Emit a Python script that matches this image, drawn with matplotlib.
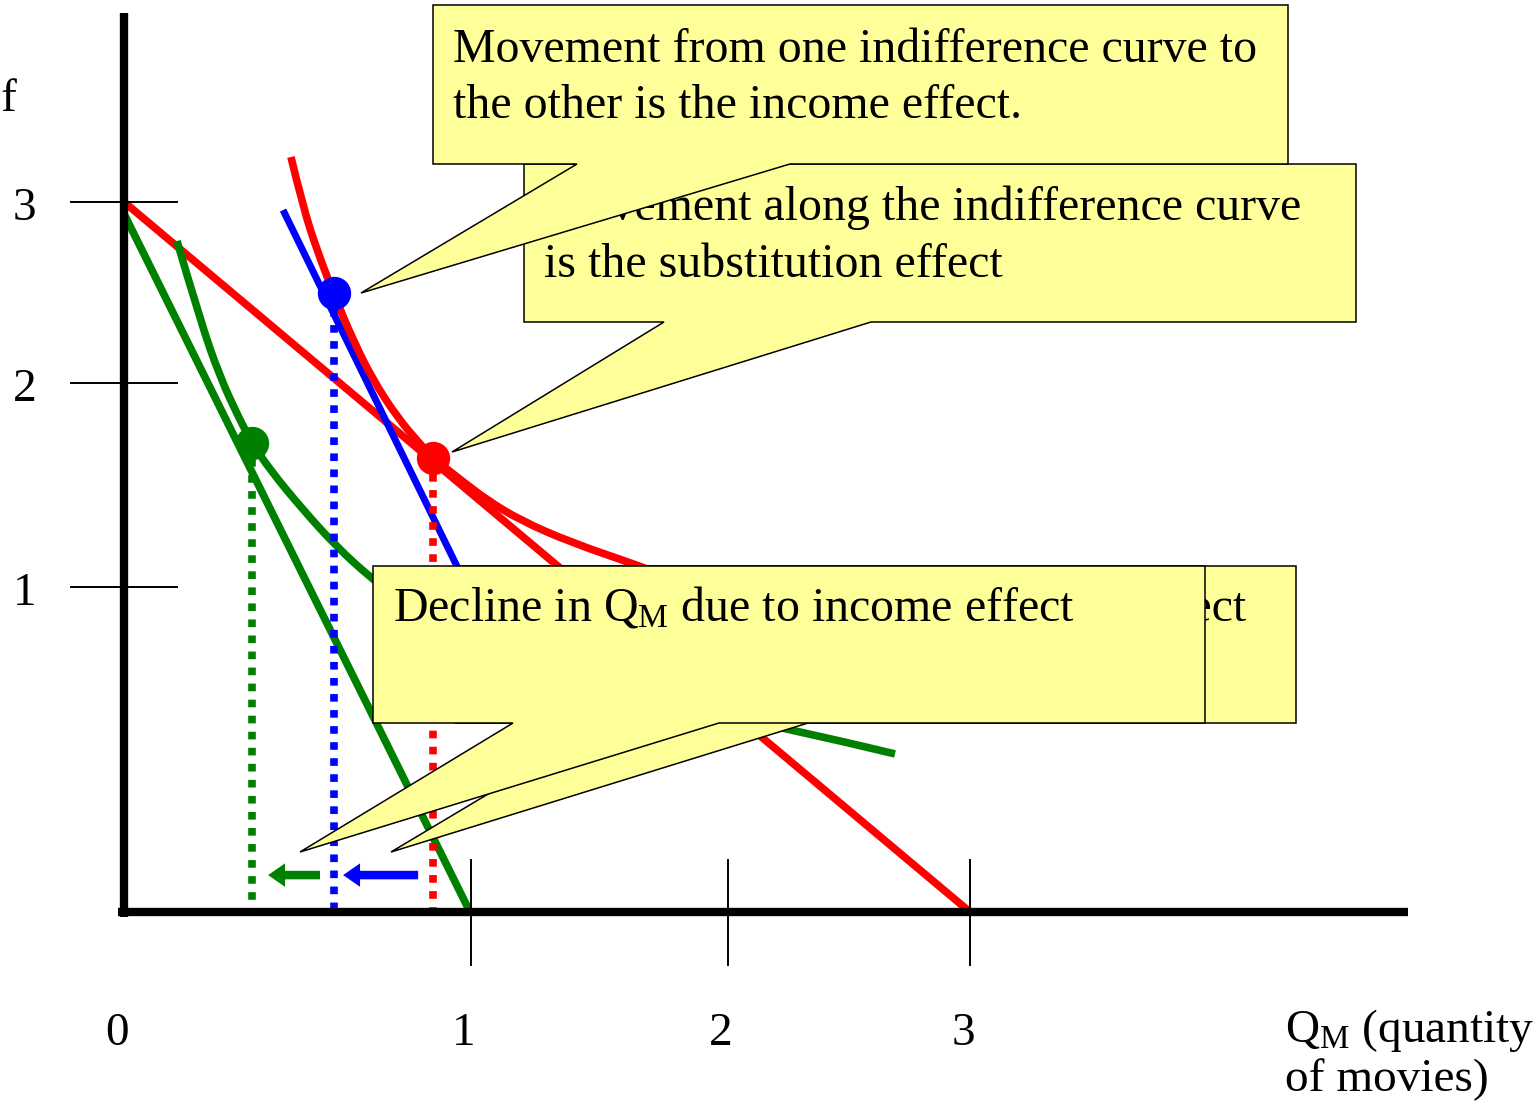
import matplotlib
matplotlib.use("Agg")
import matplotlib.pyplot as plt
from matplotlib.patches import Polygon, PathPatch
from matplotlib.path import Path

plt.rcParams['font.family'] = ['Liberation Serif', 'DejaVu Serif']
plt.rcParams['mathtext.fontset'] = 'custom'
plt.rcParams['mathtext.rm'] = 'Liberation Serif'
plt.rcParams['mathtext.it'] = 'Liberation Serif:italic'

# budget lines (Q_M on x, other good on y)
budget_old_x = [0.0, 3.0]
budget_old_y = [3.0, 0.0]
budget_new_x = [0.0, 1.227]
budget_new_y = [2.95, 0.0]
budget_comp_x = [0.564, 1.433]
budget_comp_y = [2.966, 0.845]

# higher indifference curve (red) and lower one (green)
ic_hi_x = [0.592, 0.635, 0.684, 0.748, 0.812, 0.883, 0.968, 1.050, 1.096,
           1.181, 1.287, 1.404, 1.582, 1.819, 1.90]
ic_hi_y = [3.190, 2.979, 2.797, 2.599, 2.417, 2.248, 2.092, 1.977, 1.918,
           1.838, 1.741, 1.656, 1.563, 1.466, 1.43]
ic_lo_x = [0.188, 0.270, 0.340, 0.411, 0.454, 0.518, 0.635, 0.755, 0.872,
           1.050, 1.298, 1.617, 1.972, 2.351, 2.734]
ic_lo_y = [2.835, 2.501, 2.261, 2.079, 1.982, 1.868, 1.699, 1.542, 1.415,
           1.246, 1.094, 0.963, 0.862, 0.777, 0.668]

# optimal bundles: original (red), compensated (blue), new (green)
pt_red = (1.096, 1.918)
pt_blue = (0.745, 2.615)
pt_green = (0.454, 1.982)

# effect arrows along the x axis: (from, to)
arrow_y = 0.156
arrow_sub = (1.043, 0.777)
arrow_inc = (0.695, 0.511)

x_ticks = [1.230, 2.142, 3.0]
x_tick_labels = ['1', '2', '3']
y_ticks = [3.0, 2.235, 1.373]
y_tick_labels = ['3', '2', '1']

RED, GREEN, BLUE = '#ff0000', '#008000', '#0000ff'
YELLOW = '#ffff99'
W, H = 1539, 1109
FS = 34.5

fig = plt.figure(figsize=(W / 100, H / 100), dpi=100)
ax = fig.add_axes([0, 0, 1, 1])
ax.axis('off')


def fpos(x, y):
    # pixel position measured from the top-left corner -> figure fraction
    return x / W, 1 - y / H


def label(x, y, s, size=FS, ha='left', z=5):
    ax.text(*fpos(x, y), s, transform=fig.transFigure, fontsize=size,
            ha=ha, va='baseline', zorder=z)


def callout(box, base, tip, z):
    x0, y0, x1, y1 = box
    pts = [(x0, y0), (x1, y0), (x1, y1), (base[1], y1), tip,
           (base[0], y1), (x0, y1)]
    ax.add_patch(Polygon([fpos(*p) for p in pts], closed=True,
                         transform=fig.transFigure, facecolor=YELLOW,
                         edgecolor='black', lw=1.1, zorder=z))


def smooth_curve(xs, ys, color, lw):
    # quadratic B-spline path using the points as control points
    pts = list(zip(xs, ys))
    verts, codes = [pts[0]], [Path.MOVETO]
    for i in range(1, len(pts) - 1):
        end = pts[i + 1] if i == len(pts) - 2 else \
            ((pts[i][0] + pts[i + 1][0]) / 2, (pts[i][1] + pts[i + 1][1]) / 2)
        verts += [pts[i], end]
        codes += [Path.CURVE3, Path.CURVE3]
    ax.add_patch(PathPatch(Path(verts, codes), facecolor='none',
                           edgecolor=color, lw=lw, capstyle='butt', zorder=2))


lw = 5.5
ax.plot(budget_old_x, budget_old_y, color=RED, lw=lw, solid_capstyle='butt', zorder=2)
ax.plot(budget_new_x, budget_new_y, color=GREEN, lw=lw, solid_capstyle='butt', zorder=2)
ax.plot(budget_comp_x, budget_comp_y, color=BLUE, lw=5, solid_capstyle='butt', zorder=2)
smooth_curve(ic_hi_x, ic_hi_y, RED, lw)
smooth_curve(ic_lo_x, ic_lo_y, GREEN, lw)

for (px_, py_), c in [(pt_green, GREEN), (pt_blue, BLUE), (pt_red, RED)]:
    ax.plot([px_, px_], [py_, 0], color=c, lw=5.5, linestyle=(0, (1, 1.1)),
            dash_capstyle='butt', zorder=3)
    ax.plot(px_, py_, 'o', color=c, markersize=23, zorder=4)

for (x0, x1), c in [(arrow_sub, BLUE), (arrow_inc, GREEN)]:
    ax.arrow(x0, arrow_y, x1 - x0, 0, width=0.036, head_width=0.099,
             head_length=0.060, length_includes_head=True, color=c,
             lw=0, zorder=3)

# axes and hand-drawn ticks
ax.plot([0, 0], [-0.02, 3.799], color='black', lw=6, solid_capstyle='butt', zorder=6)
ax.plot([-0.021, 4.553], [0, 0], color='black', lw=6, solid_capstyle='butt', zorder=6)
for t in x_ticks:
    ax.plot([t, t], [0.220, -0.224], color='black', lw=1.4, zorder=6)
for t in y_ticks:
    ax.plot([-0.188, 0.188], [t, t], color='black', lw=1.4, zorder=6)

for t, s in zip([0.0] + x_ticks, ['0'] + x_tick_labels):
    ax.annotate(s, (t, -0.562), xytext=(-5, 0), textcoords='offset points',
                fontsize=34, ha='center', va='baseline')
for t, s in zip(y_ticks, y_tick_labels):
    ax.annotate(s, (-0.353, t), xytext=(0, -5), textcoords='offset points',
                fontsize=34, ha='center', va='center')

label(0, 111, 'f', size=34)
label(1285, 1042, r'Q$_\mathrm{M}$ (quantity', size=34)
label(1285, 1091, 'of movies)', size=34)

# speech-bubble notes
callout((524, 164, 1356, 322), (664, 871), (452, 452), 10)
label(544, 220, 'Movement along the indifference curve', z=10.5)
label(544, 277, 'is the substitution effect', z=10.5)

callout((433, 5, 1288, 164), (577, 790), (361, 293), 11)
label(453, 62, 'Movement from one indifference curve to', z=11.5)
label(453, 118, 'the other is the income effect.', z=11.5)

callout((455, 566, 1296, 723), (607, 808), (391, 852), 12)
label(1246, 621, 'effect', ha='right', z=12.5)

callout((373, 566, 1205, 723), (513, 719), (300, 852), 13)
label(393, 621, r'Decline in Q$_\mathrm{M}$ due to income effect', z=13.5)

ax.set_xlim(-124 / 282, (W - 124) / 282)
ax.set_ylim(-(H - 912) / 236.667, 912 / 236.667)

fig.savefig('out.png', dpi=100, facecolor='white')
